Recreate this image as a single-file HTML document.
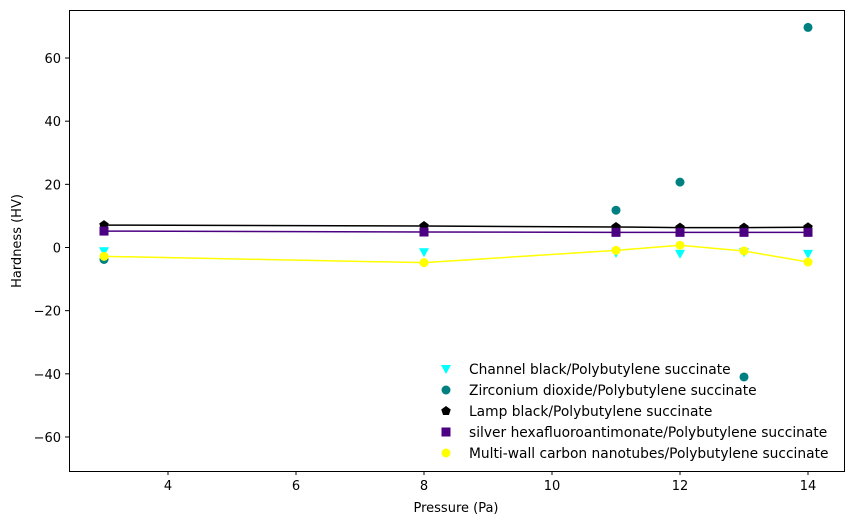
<!DOCTYPE html>
<html><head><meta charset="utf-8"><style>
body{margin:0;background:#fff;font-family:"DejaVu Sans",sans-serif}
svg text{font-family:"DejaVu Sans",sans-serif;font-size:13px;fill:#000}
svg #legend text{font-size:13.8px}
</style></head><body>
<svg id="chart" width="853" height="525">
<rect x="69.5" y="10.5" width="775" height="461" fill="none" stroke="#000" stroke-width="1"/>
<g id="xt"></g><g id="yt"></g><g id="series"></g>
<text x="456" y="512" text-anchor="middle">Pressure (Pa)</text>
<text transform="translate(21,241) rotate(-90)" text-anchor="middle">Hardness (HV)</text>
<g id="legend"></g>
</svg>
<script>
const pressures=[3,8,11,12,13,14];
const channel=[-1.2,-1.5,-1.7,-2.0,-1.5,-2.0];
const zirconiumX=[3,11,12,13,14];
const zirconium=[-3.8,11.8,20.7,-41,69.7];
const lamp=[7.1,6.8,6.5,6.3,6.3,6.4];
const silver=[5.2,4.9,4.8,4.8,4.8,4.8];
const multiwall=[-2.8,-4.8,-0.9,0.7,-1.1,-4.6];
const xTicks=[4,6,8,10,12,14];
const yTicks=[-60,-40,-20,0,20,40,60];
const NS="http://www.w3.org/2000/svg";
const X=v=>168+(v-4)*64, Y=v=>247.5-v*3.158;
function mk(t,a,p){const e=document.createElementNS(NS,t);for(const k in a)e.setAttribute(k,a[k]);p.appendChild(e);return e;}
const xt=document.getElementById('xt'),yt=document.getElementById('yt'),S=document.getElementById('series'),L=document.getElementById('legend');
xTicks.forEach(v=>{const l=mk('line',{x1:X(v),x2:X(v),y1:471,y2:475,stroke:'#000'},xt);

const t=mk('text',{x:X(v),y:490,'text-anchor':'middle'},xt);t.textContent=v;
});
yTicks.forEach(v=>{const l=mk('line',{x1:65,x2:69,y1:Y(v),y2:Y(v),stroke:'#000'},yt);

const t=mk('text',{x:61,y:Y(v)+5,'text-anchor':'end'},yt);t.textContent=v<0?'\u2212'+(-v):v;
});
function marker(shape,x,y,c,p){let e;
if(shape==='tri')e=mk('polygon',{points:`${x-5},${y-4} ${x+5},${y-4} ${x},${y+5}`,fill:c},p);
else if(shape==='circ')e=mk('circle',{cx:x,cy:y,r:4.5,fill:c},p);
else if(shape==='sq')e=mk('rect',{x:x-4.5,y:y-4.5,width:9,height:9,fill:c},p);
else if(shape==='pent'){const pts=[];for(let i=0;i<5;i++){const a=-Math.PI/2+i*2*Math.PI/5;pts.push((x+5*Math.cos(a))+','+(y+5*Math.sin(a)));}e=mk('polygon',{points:pts.join(' '),fill:c},p);}
return e;}
function line(xs,ys,c,name){const l=mk('polyline',{points:xs.map((x,i)=>X(x)+','+Y(ys[i])).join(' '),fill:'none',stroke:c,'stroke-width':1.5},S);
}
line(pressures,lamp,'#000','lamp-black-line');
line(pressures,silver,'#4b0082','silver-line');
line(pressures,multiwall,'#ffff00','multiwall-line');
const series=[
['tri',pressures,channel,'#00ffff','channel-black-point','Channel black/Polybutylene succinate'],
['circ',zirconiumX,zirconium,'#008080','zirconium-point','Zirconium dioxide/Polybutylene succinate'],
['pent',pressures,lamp,'#000','lamp-black-point','Lamp black/Polybutylene succinate'],
['sq',pressures,silver,'#4b0082','silver-point','silver hexafluoroantimonate/Polybutylene succinate'],
['circ',pressures,multiwall,'#ffff00','multiwall-point','Multi-wall carbon nanotubes/Polybutylene succinate']];
series.forEach((s,k)=>{s[1].forEach((x,i)=>{const m=marker(s[0],X(x),Y(s[2][i]),s[3],S);
});
const ly=369+k*21;const m=marker(s[0],446,ly,s[3],L);

const t=mk('text',{x:469,y:ly+5},L);t.textContent=s[5];
});
</script>
</body></html>
